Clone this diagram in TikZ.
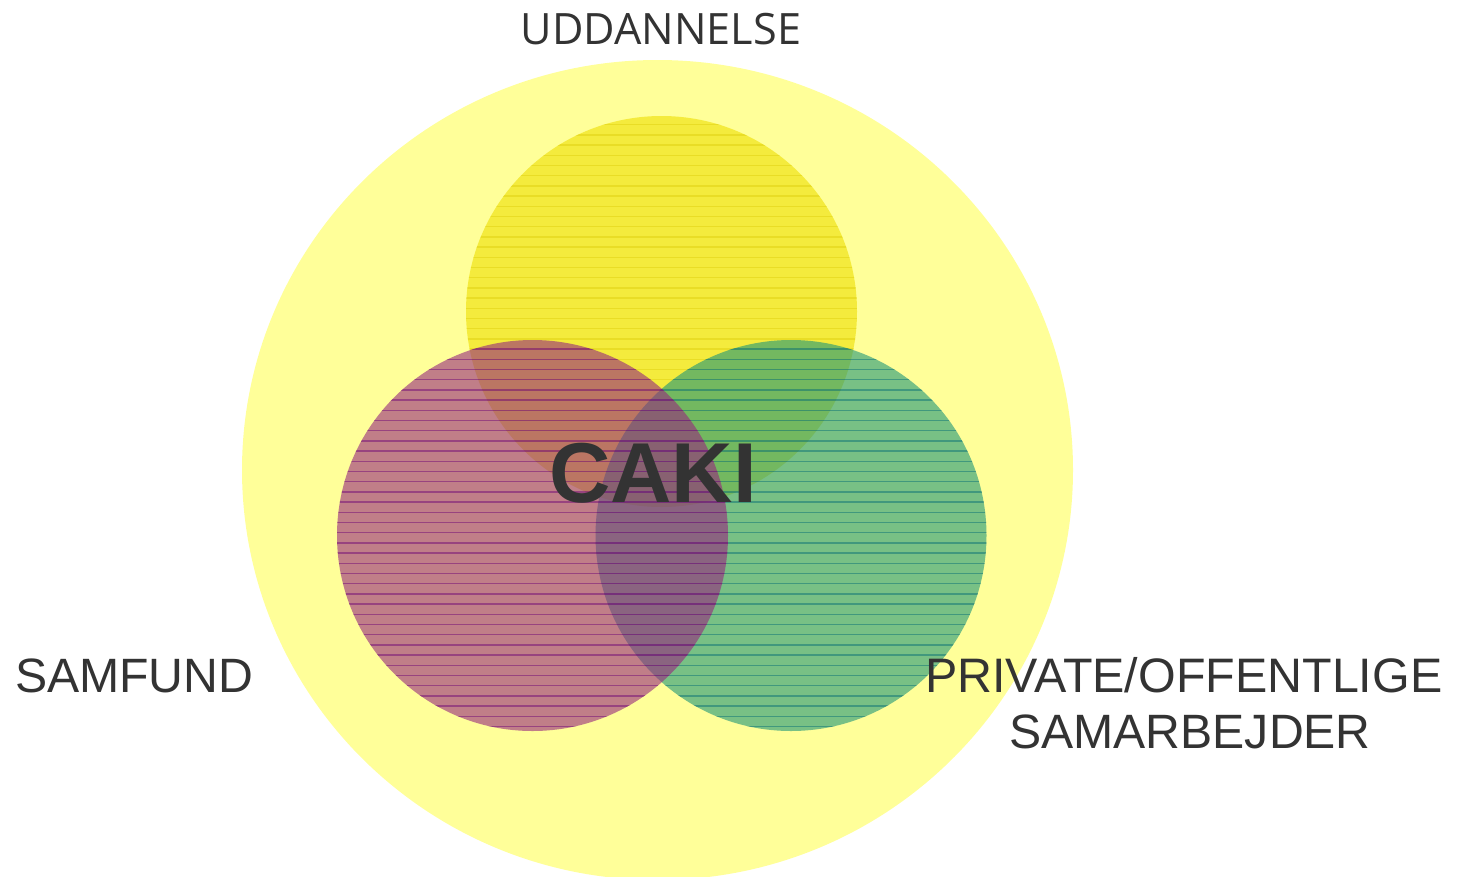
\documentclass[tikz,border=0pt]{standalone}
\usepackage{fontspec}
\setmainfont{Liberation Sans}
\newfontfamily\osans{Open Sans}
\definecolor{bigyellow}{RGB}{255,255,153}
\definecolor{topfill}{RGB}{238,222,0}
\definecolor{topline}{RGB}{225,210,20}
\definecolor{leftfill}{RGB}{150,40,125}
\definecolor{leftline}{RGB}{120,20,120}
\definecolor{rightfill}{RGB}{30,150,120}
\definecolor{rightline}{RGB}{20,120,120}
\definecolor{txt}{RGB}{51,51,51}
\tikzset{
  lbl/.style={text=txt, inner sep=0pt, outer sep=0pt},
  hatch/.style={line width=1.4pt},
}
\newcommand{\hatchcircle}[4]{% x, y, fill colour, line colour
  \fill[#3, fill opacity=0.6] (#1,#2) circle [radius=195.5pt];
  \begin{scope}
    \clip (#1,#2) circle [radius=195.5pt];
    \foreach \k in {-25,...,40}{
      \draw[hatch, #4, draw opacity=0.55] (#1-200,359.3+10.2*\k) -- (#1+200,359.3+10.2*\k);
    }
  \end{scope}
}
\begin{document}
\begin{tikzpicture}[x=1pt,y=-1pt]
\useasboundingbox (0,0) rectangle (1461,876);
\begin{scope}
\clip (0,0) rectangle (1461,876);
\fill[bigyellow] (657.5,470) ellipse [x radius=415.5pt, y radius=410pt];
\hatchcircle{661.5}{311.5}{topfill}{topline}
\hatchcircle{791}{535.5}{rightfill}{rightline}
\hatchcircle{532.5}{535.5}{leftfill}{leftline}
\end{scope}
\node[lbl, anchor=base] (udd) at (661,44) {\osans\fontsize{43.2}{50}\selectfont UDDANNELSE};
\node[lbl, anchor=base west] (sam) at (15,692) {\fontsize{48.2}{56}\selectfont SAMFUND};
\node[lbl, anchor=base west] (priv) at (925,692) {\fontsize{48.4}{56}\selectfont PRIVATE/OFFENTLIGE};
\node[lbl, anchor=base] (samarb) at (1190,748) {\fontsize{48.2}{56}\selectfont SAMARBEJDER};
\node[lbl, anchor=base] (caki) at (653,502) {\bfseries\fontsize{85}{100}\selectfont CAKI};
\end{tikzpicture}
\end{document}
